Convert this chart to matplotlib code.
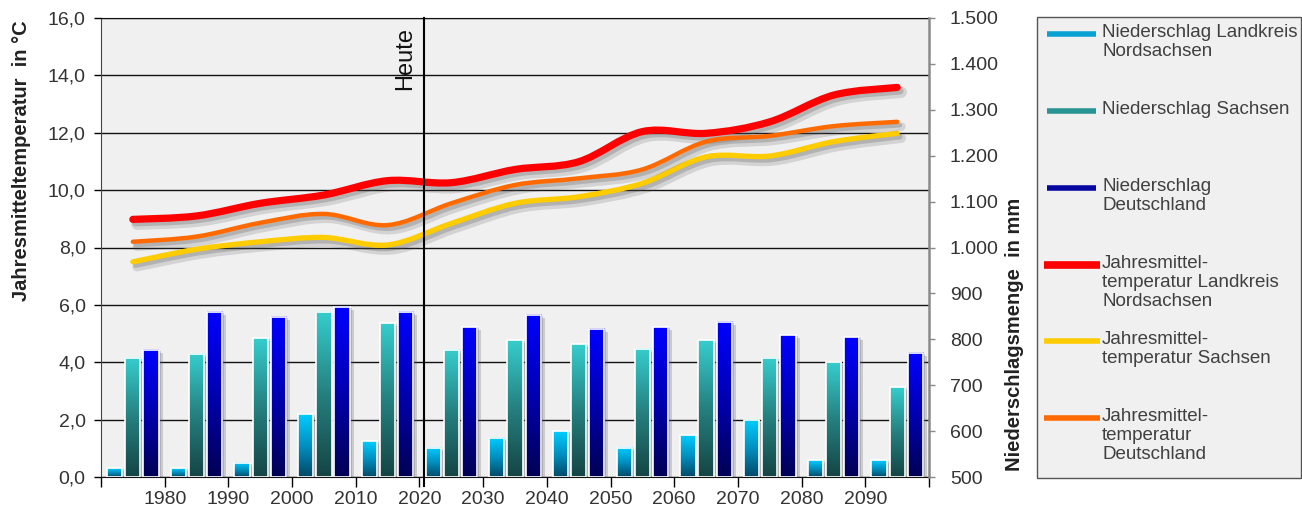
import numpy as np
import matplotlib.pyplot as plt
import matplotlib.patheffects as pe
from matplotlib.path import Path
from matplotlib.patches import PathPatch, Rectangle
from matplotlib.lines import Line2D
from matplotlib.colors import LinearSegmentedColormap
import matplotlib.transforms as mtrans

plt.rcParams['font.family'] = ['Liberation Sans', 'DejaVu Sans']

# mid-decade positions of the bar groups and the line points
years = [1975, 1985, 1995, 2005, 2015, 2025, 2035, 2045, 2055, 2065, 2075, 2085, 2095]

# Niederschlag in mm (right axis)
rain_nordsachsen = [519, 519, 531, 637, 578, 564, 586, 600, 564, 591, 625, 536, 536]
rain_sachsen = [760, 768, 802, 860, 835, 777, 798, 789, 779, 798, 760, 750, 695]
rain_deutschland = [777, 860, 849, 871, 860, 826, 854, 823, 826, 838, 809, 804, 771]

# Jahresmitteltemperatur in °C (left axis)
temp_nordsachsen = [8.98, 9.10, 9.54, 9.83, 10.33, 10.26, 10.72, 10.99, 12.04, 11.98, 12.38, 13.31, 13.58]
temp_sachsen = [7.50, 7.94, 8.20, 8.35, 8.09, 8.84, 9.54, 9.77, 10.24, 11.16, 11.19, 11.69, 11.98]
temp_deutschland = [8.20, 8.38, 8.86, 9.17, 8.78, 9.54, 10.18, 10.41, 10.72, 11.69, 11.89, 12.23, 12.38]

x_ticks = list(range(1970, 2101, 10))
x_labels = [''] + [str(y) for y in range(1980, 2091, 10)] + ['']
heute = 2020.7

legend_labels = ['Niederschlag Landkreis\nNordsachsen', 'Niederschlag Sachsen',
                 'Niederschlag\nDeutschland',
                 'Jahresmittel-\ntemperatur Landkreis\nNordsachsen',
                 'Jahresmittel-\ntemperatur Sachsen',
                 'Jahresmittel-\ntemperatur\nDeutschland']

W, H = 1302, 513
fig = plt.figure(figsize=(W / 100, H / 100), dpi=100)
ax = fig.add_axes([101 / W, 36 / H, 828 / W, 459 / H])
ax.set_facecolor('#f0f0f0')
ax2 = ax.twinx()


def smooth_path(xs, ys):
    # Excel-like smoothed line as cubic bezier segments
    pts = np.column_stack([xs, ys]).astype(float)
    ext = np.vstack([pts[0], pts, pts[-1]])
    verts = [pts[0]]
    codes = [Path.MOVETO]
    for i in range(len(pts) - 1):
        p0, p1, p2, p3 = ext[i], ext[i + 1], ext[i + 2], ext[i + 3]
        verts += [p1 + (p2 - p0) / 6, p2 - (p3 - p1) / 6, p2]
        codes += [Path.CURVE4] * 3
    return Path(verts, codes)


# bars with gradient fill
cmaps = [LinearSegmentedColormap.from_list('a', ['#004a68', '#0090c0', '#00ccff']),
         LinearSegmentedColormap.from_list('b', ['#154545', '#25807f', '#36cccc']),
         LinearSegmentedColormap.from_list('c', ['#000055', '#0000b0', '#0000ff'])]
grad = np.linspace(0, 1, 64).reshape(-1, 1)
bw = 2.4
offsets = [-2.85, 0, 2.85]
shadow_tr1 = ax2.transData + mtrans.ScaledTranslation(4 / 100, -3 / 100, fig.dpi_scale_trans)
shadow_tr2 = ax2.transData + mtrans.ScaledTranslation(2 / 100, -1 / 100, fig.dpi_scale_trans)
for vals, off, cm in zip([rain_nordsachsen, rain_sachsen, rain_deutschland], offsets, cmaps):
    for yr, v in zip(years, vals):
        x0 = yr + off - bw / 2
        ax2.add_patch(Rectangle((x0, 500), bw, v - 500, transform=shadow_tr1,
                                fc='#606060', ec='none', alpha=0.25, zorder=1))
        ax2.add_patch(Rectangle((x0, 500), bw, v - 500, transform=shadow_tr2,
                                fc='#606060', ec='none', alpha=0.25, zorder=1))
        ax2.imshow(grad, extent=(x0, x0 + bw, 500, v), origin='lower', aspect='auto',
                   cmap=cm, zorder=2, interpolation='bilinear')
        ax2.add_patch(Rectangle((x0, 500), bw, v - 500, fc='none', ec='white',
                                lw=1.2, zorder=3))

# temperature lines
for vals, col, lw in [(temp_nordsachsen, '#ff0000', 5.2),
                      (temp_sachsen, '#ffcc00', 3.8),
                      (temp_deutschland, '#ff6a00', 3.2)]:
    patch = PathPatch(smooth_path(years, vals), fill=False, ec=col, lw=lw,
                      capstyle='round', joinstyle='round', zorder=5)
    patch.set_path_effects([
        pe.SimpleLineShadow(offset=(3, -3.5), shadow_color='#505050', alpha=0.18, linewidth=lw + 3),
        pe.SimpleLineShadow(offset=(2, -2.5), shadow_color='#505050', alpha=0.25),
        pe.Normal()])
    ax.add_patch(patch)

# "Heute" marker
ax2.axvline(heute, ymin=-0.02, ymax=1, color='black', lw=1.5, clip_on=False, zorder=6)
ax.text(heute - 1.2, 15.7, 'Heute', rotation=90, ha='right', va='top',
        fontsize=17, color='#111111')

ax.set_xlim(1970, 2100)
ax.set_ylim(0, 16)
ax2.set_ylim(500, 1500)

ax.set_xticks(x_ticks)
ax.set_xticklabels(x_labels)
ax.set_yticks(np.arange(0, 17, 2))
ax.set_yticklabels([f'{v:.1f}'.replace('.', ',') for v in np.arange(0, 17, 2)])
ax2.set_yticks(range(500, 1501, 100))
ax2.set_yticklabels([f'{v:,}'.replace(',', '.') for v in range(500, 1501, 100)])

ax.yaxis.grid(True, color='#111111', lw=1.0)
ax.set_axisbelow(True)
ax.tick_params(axis='y', direction='out', length=5, width=1, pad=6,
               labelsize=14, labelcolor='#333333')
ax.tick_params(axis='x', direction='out', length=7, width=1, pad=3,
               labelsize=14, labelcolor='#333333')
ax2.tick_params(axis='y', direction='out', length=4, width=1, color='#888888', pad=11,
                labelsize=14, labelcolor='#333333')

for s in ['top', 'bottom']:
    ax.spines[s].set_color('#111111')
ax.spines['left'].set_color('#444444')
ax.spines['right'].set_visible(False)
for s in ['left', 'top', 'bottom']:
    ax2.spines[s].set_visible(False)
ax2.spines['right'].set_color('#8a8a8a')
ax2.spines['right'].set_linewidth(1.8)

fig.text(22 / W, 1 - 161 / H, 'Jahresmitteltemperatur  in °C', rotation=90,
         ha='center', va='center', fontsize=14.5, fontweight='bold', color='#222222')
fig.text(1015 / W, 1 - 334 / H, 'Niederschlagsmenge  in mm', rotation=90,
         ha='center', va='center', fontsize=14.5, fontweight='bold', color='#222222')

# legend box drawn by hand
fig.add_artist(Rectangle((1037 / W, 1 - 478 / H), 264 / W, 461 / H, transform=fig.transFigure,
                         fc='#f0f0f0', ec='#555555', lw=1.0))
handle_cols = ['#0aa2d2', '#2a9494', '#0606a0', '#ff0000', '#ffcc00', '#ff6a00']
handle_lw = [4, 4, 4, 5.5, 4, 4]
handle_x = [(1047, 1096)] * 3 + [(1044, 1100)] * 3
rows_y = [34, 111, 188, 265, 341, 418]
for lab, col, lw, (hx0, hx1), ry in zip(legend_labels, handle_cols, handle_lw, handle_x, rows_y):
    fig.add_artist(Line2D([hx0 / W, hx1 / W], [1 - ry / H, 1 - ry / H], transform=fig.transFigure,
                          color=col, lw=lw, solid_capstyle='butt'))
    fig.text(1102 / W, 1 - (ry - 10) / H, lab, ha='left', va='top', fontsize=13.5,
             color='#404040', linespacing=1.17)

fig.savefig('out.png', dpi=100)
